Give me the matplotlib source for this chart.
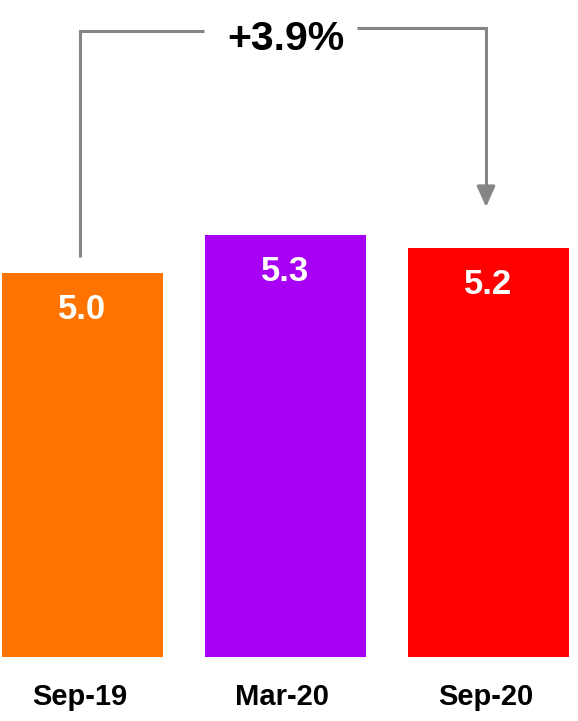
import matplotlib
matplotlib.use("Agg")
import matplotlib.pyplot as plt

periods = ["Sep-19", "Mar-20", "Sep-20"]
values = [5.0, 5.3, 5.2]
colors = ["#FF7300", "#A800F5", "#FF0000"]
change_label = "+3.9%"

plt.rcParams["font.family"] = ["Liberation Sans", "DejaVu Sans"]

BASE = 1.98
SCALE = 127  # pixels per unit

fig = plt.figure(figsize=(5.78, 7.21), dpi=100)
ax = fig.add_axes([0, 64 / 721, 1, 657 / 721])
x = list(range(len(periods)))
ax.bar(x, values, width=0.793, color=colors)
ax.set_xlim(-0.406, 2.441)
ax.set_ylim(BASE, BASE + 657 / SCALE)
ax.axis("off")


def py(pix):
    """Data y for a pixel row measured from the top of the figure."""
    return BASE + (657 - pix) / SCALE


# value labels inside the bars
for xi, v in zip(x, values):
    ax.annotate(f"{v:.1f}", (xi, v), xytext=(0, -36 * 0.72), textcoords="offset points",
                ha="center", va="center", color="white", fontsize=25, fontweight="bold")

# category labels under the bars
for xi, p in zip(x, periods):
    ax.annotate(p, (xi - 0.015, BASE), xytext=(0, -40 * 0.72), textcoords="offset points",
                ha="center", va="center", color="black", fontsize=21, fontweight="bold")

# change connector from first to last bar
gray = "#858585"
lw = 2.2
ax.plot([-0.012, -0.012, 0.60], [py(257), py(31), py(31)], color=gray, lw=lw,
        solid_capstyle="butt", solid_joinstyle="miter")
ax.plot([1.35, 1.988, 1.988], [py(28), py(28), py(191)], color=gray, lw=lw,
        solid_capstyle="butt", solid_joinstyle="miter")
ax.annotate("", xy=(1.988, py(207)), xytext=(1.988, py(192)),
            arrowprops=dict(arrowstyle="-|>,head_length=1.25,head_width=0.56",
                            color=gray, lw=lw, shrinkA=0, shrinkB=0))
ax.text(1.0, py(39), change_label, ha="center", va="center", fontsize=29.5,
        fontweight="bold", color="black")

fig.savefig("out.png", dpi=100)
